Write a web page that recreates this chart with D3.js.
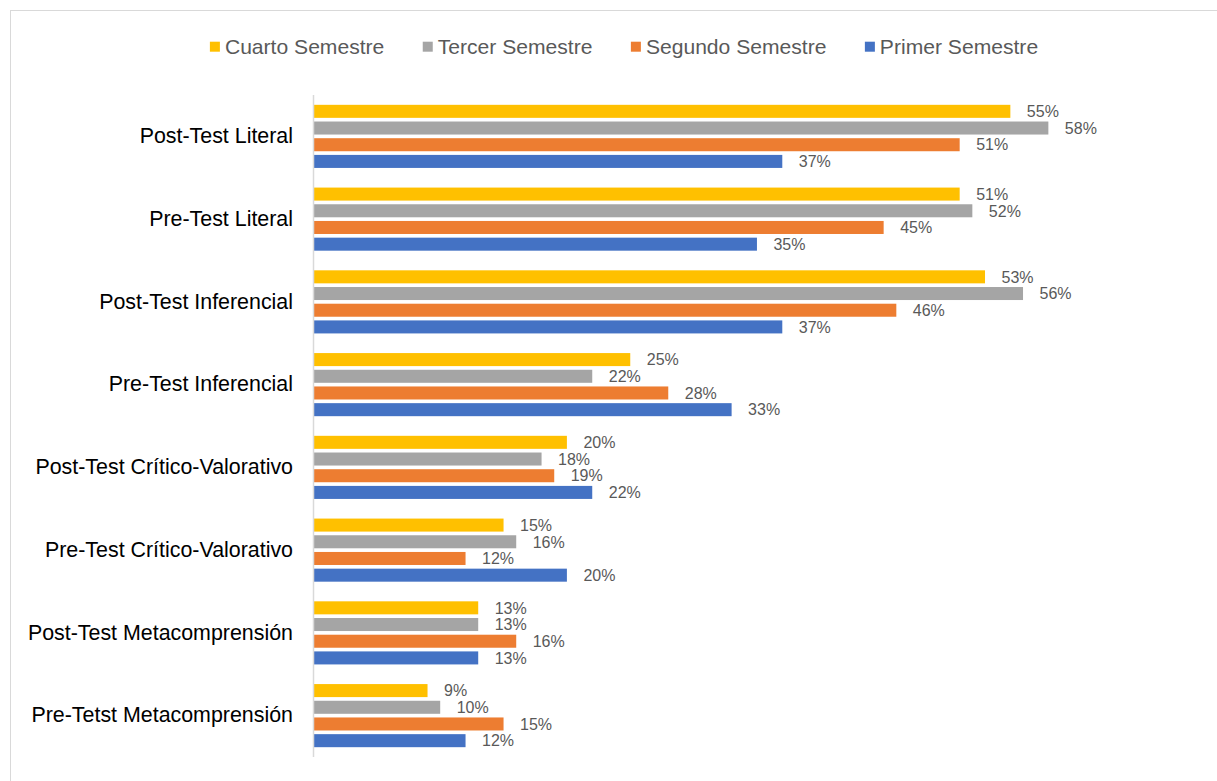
<!DOCTYPE html>
<html>
<head>
<meta charset="utf-8">
<script src="https://cdn.jsdelivr.net/npm/d3@7"></script>
<style>
  html, body { margin: 0; padding: 0; background: #fff; }
  svg { display: block; font-family: "Liberation Sans", Arial, sans-serif; }
</style>
</head>
<body>
<svg id="chart" width="1217" height="781"></svg>
<script>
const categories = [
  "Post-Test Literal",
  "Pre-Test Literal",
  "Post-Test Inferencial",
  "Pre-Test Inferencial",
  "Post-Test Crítico-Valorativo",
  "Pre-Test Crítico-Valorativo",
  "Post-Test Metacomprensión",
  "Pre-Tetst Metacomprensión"
];
const seriesNames = ["Cuarto Semestre", "Tercer Semestre", "Segundo Semestre", "Primer Semestre"];
const seriesColors = ["#FFC000", "#A5A5A5", "#ED7D31", "#4472C4"];
const cuarto  = [0.55, 0.51, 0.53, 0.25, 0.20, 0.15, 0.13, 0.09];
const tercer  = [0.58, 0.52, 0.56, 0.22, 0.18, 0.16, 0.13, 0.10];
const segundo = [0.51, 0.45, 0.46, 0.28, 0.19, 0.12, 0.16, 0.15];
const primer  = [0.37, 0.35, 0.37, 0.33, 0.22, 0.20, 0.13, 0.12];
const seriesValues = [cuarto, tercer, segundo, primer];

const svg = d3.select("#chart");

// chart border
svg.append("rect")
  .attr("x", 10.5).attr("y", 10.5)
  .attr("width", 1230).attr("height", 790)
  .attr("fill", "none").attr("stroke", "#d9d9d9").attr("stroke-width", 1);

const x0 = 313.5;
const x = d3.scaleLinear().domain([0, 0.6]).range([x0, x0 + 0.6 * 1267]);
const y = d3.scaleBand().domain(categories).range([95, 757])
  .paddingInner(0.193).paddingOuter(0.0965);
const ySub = d3.scaleBand().domain(seriesNames).range([0, y.bandwidth()])
  .paddingInner(0.22).paddingOuter(0.11);

// bars
const groups = svg.append("g").selectAll("g")
  .data(categories).join("g")
  .attr("transform", d => `translate(0,${y(d)})`);

groups.each(function(cat, ci) {
  const g = d3.select(this);
  seriesNames.forEach((s, si) => {
    const v = seriesValues[si][ci];
    g.append("rect")
      .attr("x", x(0))
      .attr("y", ySub(s))
      .attr("width", x(v) - x(0))
      .attr("height", ySub.bandwidth())
      .attr("fill", seriesColors[si]);
    g.append("text")
      .attr("x", x(v) + 16.5)
      .attr("y", ySub(s) + ySub.bandwidth() / 2)
      .attr("dy", "0.36em")
      .attr("font-size", 16)
      .attr("fill", "#595959")
      .text(d3.format(".0%")(v));
  });
});

// vertical axis line
svg.append("line")
  .attr("x1", 313.5).attr("x2", 313.5)
  .attr("y1", 95).attr("y2", 757)
  .attr("stroke", "#d9d9d9").attr("stroke-width", 1.5);

// category labels
const yAxis = d3.axisLeft(y).tickSize(0).tickPadding(20);
const ag = svg.append("g").attr("transform", "translate(313,0)").call(yAxis);
ag.select(".domain").remove();
ag.selectAll("text")
  .attr("font-size", 21.4)
  .attr("font-family", "Liberation Sans, Arial, sans-serif")
  .attr("fill", "#000");

// legend
const leg = svg.append("g");
const items = leg.selectAll("g").data(seriesNames).join("g");
items.append("rect").attr("width", 10).attr("height", 10).attr("y", -5)
  .attr("fill", (d, i) => seriesColors[i]);
items.append("text").attr("x", 15).attr("dy", "0.36em")
  .attr("font-size", 21.1).attr("fill", "#595959").text(d => d);
const widths = [];
items.each(function() { widths.push(15 + d3.select(this).select("text").node().getComputedTextLength()); });
const gap = 38.4;
const total = d3.sum(widths) + gap * (widths.length - 1);
let cx = 624 - total / 2;
items.each(function(d, i) {
  d3.select(this).attr("transform", `translate(${cx},46.7)`);
  cx += widths[i] + gap;
});
</script>
</body>
</html>
